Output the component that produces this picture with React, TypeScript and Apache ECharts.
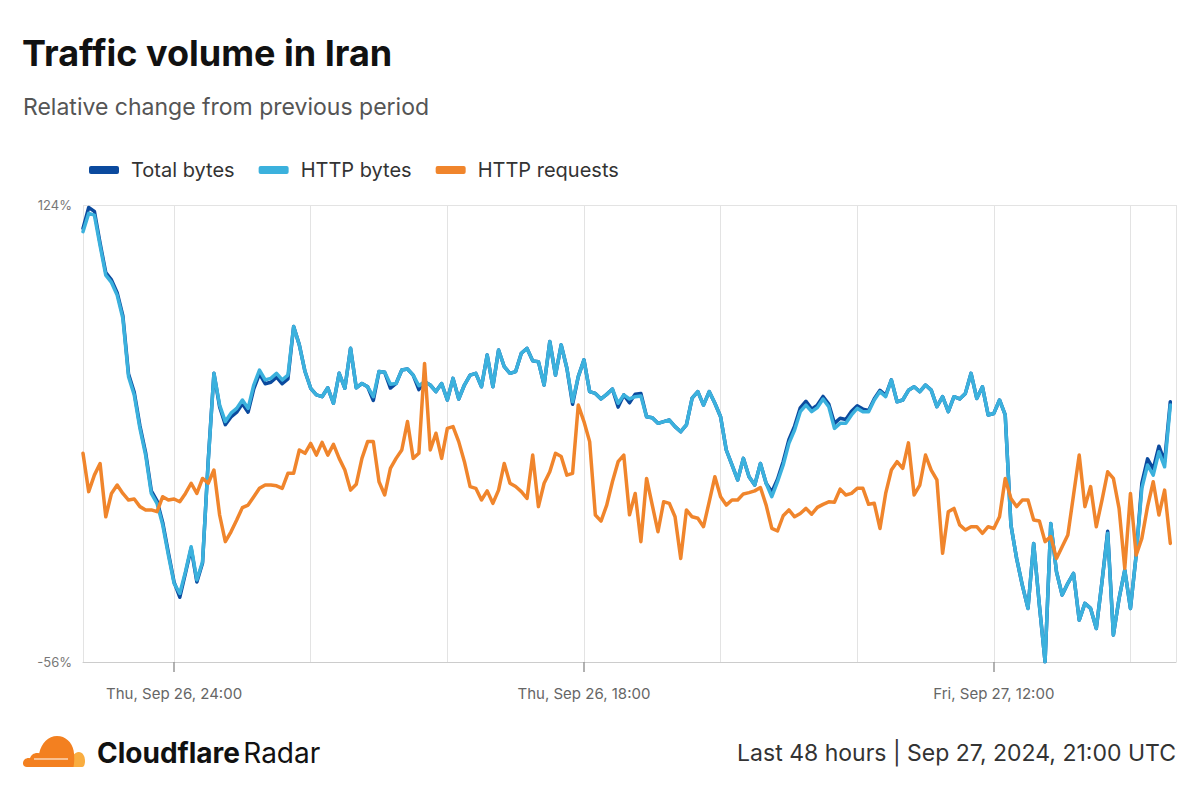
import React, { useEffect, useRef } from "react";
import * as echarts from "echarts";

// ---- Data (15‑minute slots, Sep 25 20:00 UTC → Sep 27 20:45 UTC) ----
const SERIES_NAMES = ["Total bytes", "HTTP bytes", "HTTP requests"];

const httpBytes = [
  113.5, 120.7, 120, 108, 96.4, 93.5, 88.5, 79.4, 56.4, 49.2, 36, 25.5, 10.4, 6.5, -2, -13.9, -25, -29, -20.4, -10.6,
  -23.7, -16.5, 22.9, 57.7, 45.2, 38.7, 42, 43.9, 47.2, 43.9, 53.1, 59, 55.1, 55.7, 57.7, 55.1, 57, 76.1, 68.9, 58.4,
  51.8, 49.2, 48.5, 52, 45.9, 57.7, 51.8, 67.6, 52,
  53.7, 52.4, 48.5, 58.4, 58.1, 53.4, 53.7, 59, 59.4, 57, 52.8, 54.4, 53.1, 50.5, 53.7, 47.2, 55.7, 47.6, 53.1, 57,
  57.7, 52.4, 64.9, 52.4, 66.9, 60.3, 57.7, 58.4, 65.6, 67.5, 62.6, 62.3, 53.1, 70.2, 57, 68.9, 59.7, 46.5, 56.4, 63,
  50.5, 49.8, 47.6, 49.4, 51.5, 45.9, 49.2, 47.6, 48.5,
  48.8, 40.6, 40.2, 38, 38.7, 39.3, 36.7, 34.7, 37.4, 47.9, 50.5, 45.2, 50.5, 45.9, 40.6, 27.5, 21.6, 15.7, 24.2, 17,
  13.7, 22.2, 14.4, 9.1, 15, 21.6, 30.1, 35.4, 42.6, 45.2, 42.6, 44.2, 47.6, 44.6, 36, 38, 38, 41.3, 43.9, 42.6,
  42.6, 47.2, 50.5, 48.5, 55.1, 46.5, 47.2, 51,
  52.4, 50.5, 53.1, 51.1, 44.6, 48.5, 42.6, 48.5, 47.6, 49.8, 57.7, 47.8, 52.4, 41.3, 41.9, 47.2, 41.3, -2, -15.2, -25.7,
  -34.9, -9.3, -33.6, -55.9, -1.4, -20.4, -29.6, -25, -21.1, -39.5, -32.9, -34.9, -42.8, -24.4, -5.3, -45.4, -31, -19.8, -34.9, -13.9,
  12.4, 21.6, 17.6, 26.8, 20.9, 45.2,
];

const totalBytes = [
  114.8, 123, 121.5, 109, 97.4, 94.5, 89.5, 80.4, 57.4, 50.2, 37, 26.5, 11.4, 7.5, -1, -13, -24.5, -30.5, -21, -11.2,
  -24.5, -17, 23.5, 57.7, 44.5, 37.5, 40.5, 42.4, 45.7, 42.4, 51.6, 57.5, 53.6, 54.2, 56.2, 53.6, 55.5, 76.1, 68.9, 58.4,
  51.8, 49.2, 48.5, 52, 45.9, 57.7, 51.8, 67.6, 52,
  53.7, 52.4, 47, 58.4, 58.1, 51.9, 53.7, 59, 59.4, 57, 51.3, 54.4, 53.1, 50.5, 53.7, 47.2, 55.7, 47.6, 53.1, 57,
  57.7, 52.4, 64.9, 52.4, 66.9, 60.3, 57.7, 58.4, 65.6, 67.5, 62.6, 62.3, 53.1, 70.2, 57, 68.9, 59.7, 45.5, 56.4, 63,
  50.5, 49.8, 47.6, 49.4, 51.5, 44.4, 49.2, 46.1, 49.5,
  49.8, 40.6, 40.2, 38, 38.7, 39.3, 36.7, 34.7, 37.4, 47.9, 50.5, 45.2, 50.5, 45.9, 40.6, 27.5, 21.6, 15.7, 24.2, 17,
  13.7, 22.2, 14.4, 11, 16, 23, 31.6, 36.9, 44.1, 46.7, 43.6, 45.2, 48.6, 45.6, 38, 40, 39.5, 42.8, 44.9, 43.6,
  43.1, 47.7, 51, 49, 55.1, 46.5, 47.2, 51,
  52.4, 50.5, 53.1, 51.1, 44.6, 48.5, 42.6, 48.5, 47.6, 49.8, 57.7, 47.8, 52.4, 41.3, 41.9, 47.2, 41.3, -2, -15.2, -25.7,
  -34.9, -9.3, -33.6, -55.9, -1.4, -20.4, -29.6, -25, -21.1, -39.5, -32.9, -34.9, -42.8, -24.4, -4.5, -45.4, -31, -19.8, -34.9, -13.9,
  14.4, 24, 20, 29, 23, 46.5,
];

const httpRequests = [
  26.2, 11.1, 17.6, 22.2, 1.2, 10.4, 13.7, 10.4, 7.8, 8.2, 5.2, 3.9, 3.9, 3.2, 9.1, 7.8, 8.2, 7.1, 10.4, 14.4,
  10.4, 16.3, 14.4, 19.6, 1.9, -8.6, -4.7, -0.1, 4.8, 5.8, 9.1, 12.4, 13.7, 13.7, 13.4, 12.4, 18.3, 18.3, 27.5, 26.2,
  30.1, 25.5, 30.5, 25.5, 29.7, 24.2, 19.6, 11.7, 14,
  24.2, 30.8, 30.8, 15, 9.8, 20.3, 24.2, 27.5, 38.7, 24.2, 26.2, 61.6, 27.5, 34.1, 24.2, 36, 36.7, 30.8, 22.9, 13.1,
  12.4, 7.8, 11.4, 6.5, 11.7, 22.2, 14.4, 13.1, 11.1, 8.4, 25.5, 5.2, 14.4, 18.9, 26.2, 24.9, 17.6, 18.3, 45.2, 38.7,
  30.8, 1.9, -0.5, 5.8, 15, 22.9, 25.5, 2, 10.4,
  -8.6, 16.3, 5.8, -4.7, 7.1, 6.5, 1.2, -15.2, 3.9, 1.2, 0.6, -2.7, 7.1, 17, 9.1, 5.8, 7.8, 7.8, 10.2, 10.7,
  11.4, 12.7, 5.8, -3.4, -4.4, 1.6, 3.9, 1.2, 2.5, 4.5, 2.2, 4.9, 6.1, 7.1, 6.9, 12.1, 9.8, 10.4, 12.4, 12.4,
  6.1, 6.5, -3.4, 10.4, 19.6, 22.9, 20.3, 30.3,
  9.8, 13.7, 25.5, 19.6, 15.7, -13.2, 3.2, 4.5, -2, -4, -2.7, -2.7, -5.3, -2.7, -3.4, 1.2, 16.3, 8.4, 5.2, 7.8,
  7.8, -0.1, -0.5, -8.6, -6.6, -15.2, -10.6, -6, 9.8, 25.5, 5.2, 13.1, -2.7, 7.8, 18.9, 16.3, 4.5, -19.1, 10.4, -13.9,
  -7.3, 5.2, 15, 1.9, 11.7, -9.3,
];

const Y_MIN = -56;
const Y_MAX = 124;

const tickSlots = [16, 88, 160];
const tickLabels = ["Thu, Sep 26, 24:00", "Thu, Sep 26, 18:00", "Fri, Sep 27, 12:00"];
const gridSlots = [0, 16, 40, 64, 88, 112, 136, 160, 184, 192];

// one extra empty slot at the end (the plot box extends one step past the last value)
const SLOT_COUNT = 193;
const START = Date.UTC(2024, 8, 25, 20, 0);
const categories = Array.from({ length: SLOT_COUNT }, (_, i) =>
  new Date(START + i * 15 * 60 * 1000).toISOString()
);

const COLORS = ["#0b4a9e", "#3bb1dd", "#f0852c"];
const FONT = "Inter, 'Noto Sans', sans-serif";

let shapesRegistered = false;
function registerShapes() {
  if (shapesRegistered) return;
  shapesRegistered = true;
  echarts.graphic.registerShape(
    "cfCloudBig",
    echarts.graphic.extendPath(
      "M50.5 32 L4 32 C1.6 32 0 30.4 0 28.4 C0 25 3 22.6 7 23.2 C8 19.6 11.8 17.2 16.2 18.2 C18.4 8 25.5 1 34 1 C42.5 1 49 7.2 50.6 15.5 C51.4 20 51.6 26 50.5 32 Z",
      {}
    )
  );
  echarts.graphic.registerShape(
    "cfCloudSmall",
    echarts.graphic.extendPath(
      "M46 32 C47 24 50.8 17 55.8 17 C59.6 17 62 21 62 26 C62 29.6 61 32 59 32 Z",
      {}
    )
  );
}

export default function App() {
  const ref = useRef<HTMLDivElement>(null);

  useEffect(() => {
    document.body.style.margin = "0";
    registerShapes();
    const chart = echarts.init(ref.current!, null, { renderer: "svg" });

    const seriesData = [totalBytes, httpBytes, httpRequests];

    const option: any = {
      animation: false,
      backgroundColor: "#ffffff",
      textStyle: { fontFamily: FONT },
      title: [
        {
          text: "Traffic volume in Iran",
          left: 22,
          top: 35,
          padding: 0,
          textStyle: { fontFamily: FONT, fontSize: 36, fontWeight: 700, color: "#111111" },
        },
        {
          text: "Relative change from previous period",
          left: 23,
          top: 95,
          padding: 0,
          textStyle: { fontFamily: FONT, fontSize: 23, fontWeight: 400, color: "#555555" },
        },
      ],
      legend: {
        data: SERIES_NAMES,
        left: 84,
        top: 155,
        icon: "roundRect",
        itemWidth: 30,
        itemHeight: 8,
        itemGap: 24,
        textStyle: { fontFamily: FONT, fontSize: 20, color: "#333333", padding: [0, 0, 0, 7] },
      },
      grid: { left: 83, right: 24, top: 205, bottom: 138, containLabel: false },
      xAxis: {
        type: "category",
        data: categories,
        boundaryGap: false,
        axisLine: { show: true, onZero: false, lineStyle: { color: "#cccccc", width: 1 } },
        axisTick: {
          show: true,
          length: 10,
          interval: (idx: number) => tickSlots.includes(idx),
          lineStyle: { color: "#999999", width: 1.5 },
        },
        axisLabel: {
          show: true,
          interval: (idx: number) => tickSlots.includes(idx),
          formatter: (_v: string, idx: number) => {
            const k = tickSlots.indexOf(idx);
            return k >= 0 ? tickLabels[k] : "";
          },
          margin: 24,
          fontFamily: FONT,
          fontSize: 15,
          color: "#666666",
          hideOverlap: false,
        },
        splitLine: {
          show: true,
          interval: (idx: number) => gridSlots.includes(idx),
          lineStyle: { color: "#e3e3e3", width: 1 },
        },
      },
      yAxis: {
        type: "value",
        min: Y_MIN,
        max: Y_MAX,
        axisLine: { show: false },
        axisTick: { show: false },
        splitLine: { show: false },
        axisLabel: {
          show: true,
          margin: 11,
          fontFamily: FONT,
          fontSize: 13,
          color: "#777777",
          formatter: (v: number) => (v === Y_MIN || v === Y_MAX ? `${v}%` : ""),
        },
      },
      series: SERIES_NAMES.map((name, k) => ({
        name,
        type: "line",
        data: seriesData[k],
        symbol: "none",
        showSymbol: false,
        z: 2 + k,
        lineStyle: { color: COLORS[k], width: 3.5, join: "round", cap: "round" },
        itemStyle: { color: COLORS[k] },
        emphasis: { disabled: true },
        markLine:
          k === 0
            ? {
                silent: true,
                symbol: ["none", "none"],
                label: { show: false },
                lineStyle: { color: "#e3e3e3", type: "solid", width: 1 },
                data: [{ yAxis: Y_MAX }],
                z: 1,
              }
            : undefined,
      })),
      graphic: [
        {
          type: "cfCloudSmall",
          x: 23,
          y: 735,
          style: { fill: "#f9ad40" },
        },
        {
          type: "cfCloudBig",
          x: 23,
          y: 735,
          style: { fill: "#f38020" },
        },
        {
          type: "line",
          shape: { x1: 34, y1: 759, x2: 68, y2: 759 },
          style: { stroke: "#ffffff", lineWidth: 1.2 },
        },
        {
          type: "text",
          x: 97,
          y: 753,
          style: {
            text: "{b|Cloudflare} {r|Radar}",
            verticalAlign: "middle",
            rich: {
              b: { fontFamily: FONT, fontSize: 28, fontWeight: 700, fill: "#111111" },
              r: { fontFamily: FONT, fontSize: 28, fontWeight: 400, fill: "#111111" },
            },
          },
        },
        {
          type: "text",
          x: 1176,
          y: 753,
          style: {
            text: "Last 48 hours | Sep 27, 2024, 21:00 UTC",
            align: "right",
            verticalAlign: "middle",
            fontFamily: FONT,
            fontSize: 23,
            fill: "#333333",
          },
        },
      ],
    };

    chart.setOption(option);
    return () => chart.dispose();
  }, []);

  return <div ref={ref} style={{ width: 1200, height: 800 }} />;
}
